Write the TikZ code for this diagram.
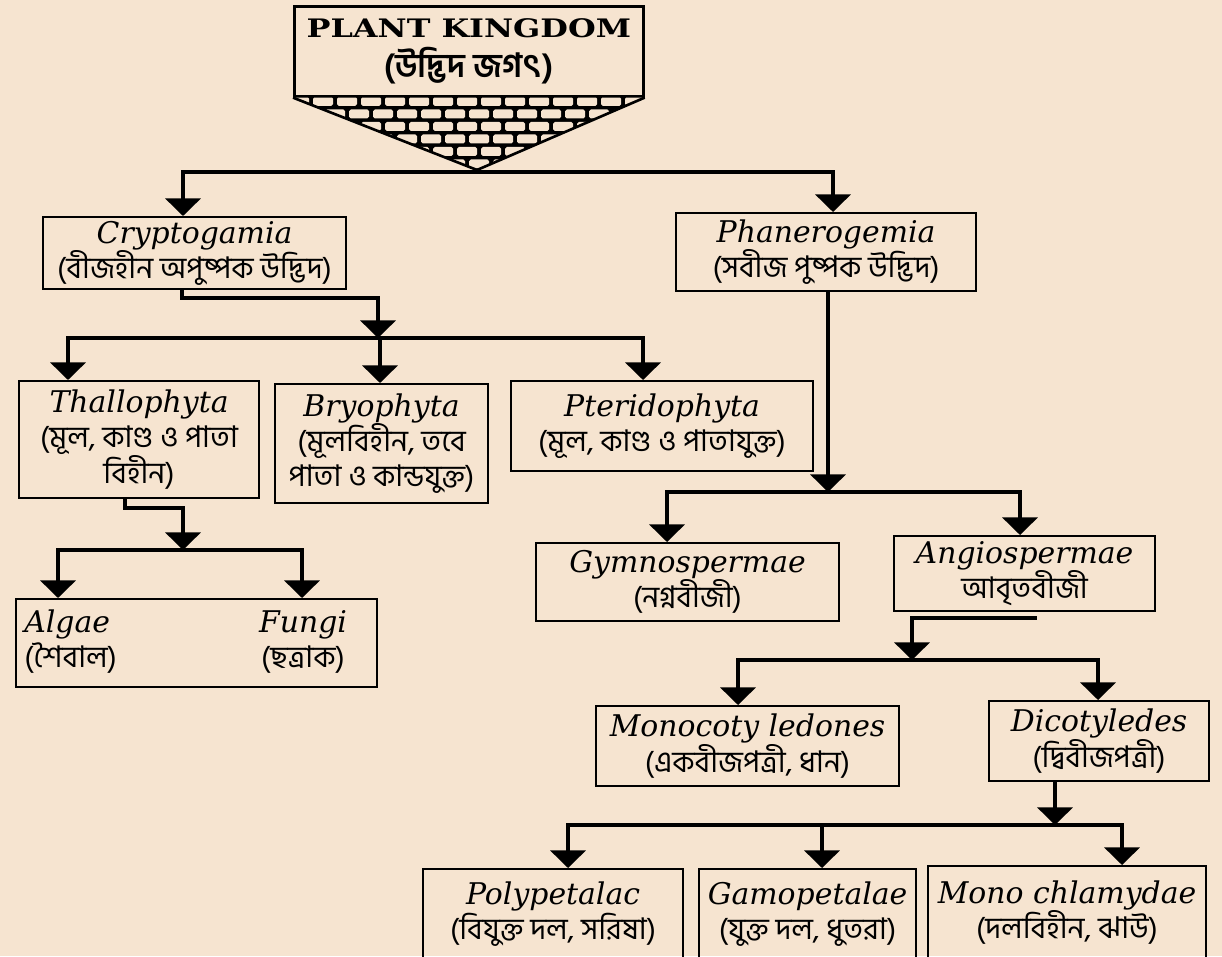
\documentclass[tikz,border=0pt]{standalone}
\usepackage{fontspec}
\usepackage{graphicx}
\usetikzlibrary{arrows.meta}
\setmainfont{DejaVu Serif}
\newfontfamily\bn[Script=Bengali]{Hind Siliguri}
\newfontfamily\latfont{DejaVu Serif}

\definecolor{paper}{RGB}{246,228,208}

\newcommand\unitpx{0.02cm}
\newcommand\lat[1]{{\latfont\itshape #1}}
\newcommand\plantbox[6]{
  \node[plantbox, minimum width=#4*\unitpx, minimum height=#5*\unitpx] (#1) at (#2,#3) {#6};
}
\newcommand\bricks{
  \foreach \r in {0,...,5}{
    \pgfmathsetmacro\rowy{97+12.5*\r}
    \pgfmathsetmacro\rowshift{mod(\r,2)*12}
    \foreach \c in {0,...,14}{
      \fill[paper, rounded corners=1pt] (289+\rowshift+24*\c, \rowy) rectangle ++(20,9);
    }
  }
}

\tikzset{
  plantbox/.style={draw, line width=1.2pt, anchor=north west, inner sep=0pt, align=center,
    font=\bn\fontsize{17}{20}\selectfont},
  plaintext/.style={inner sep=0pt, align=center, font=\bn\fontsize{17}{20}\selectfont},
  conn/.style={line width=1.8pt, line cap=rect},
  arr/.style={conn, -{Triangle[width=20pt,length=10pt]}},
}

\begin{document}
\begin{tikzpicture}[x=\unitpx, y=-\unitpx]
    \useasboundingbox (0,0) rectangle (1222,956);
    \clip (0,0) rectangle (1222,956);
    \fill[paper] (0,0) rectangle (1222,956);

    \node[draw, line width=1.5pt, anchor=north west, minimum width=349*\unitpx, minimum height=90*\unitpx,
      inner sep=0pt, align=center] (kingdom) at (293,5)
      {\scalebox{1.25}[1]{\bfseries\fontsize{14.5}{16}\selectfont PLANT KINGDOM}\\[4pt]{\bn\bfseries\fontsize{19}{20}\selectfont (উদ্ভিদ জগৎ)}};
    \coordinate (apex) at (477,170);
    \fill (kingdom.south west) -- (kingdom.south east) -- (apex) -- cycle;
    \begin{scope}
      \clip (kingdom.south west) -- (kingdom.south east) -- (apex) -- cycle;
      \bricks
    \end{scope}
    \draw[line width=1.5pt, line join=round] (kingdom.south west) -- (apex) -- (kingdom.south east);

    \plantbox{crypt}{42}{216}{303}{72}{\lat{Cryptogamia}\\(বীজহীন অপুষ্পক উদ্ভিদ)}
    \plantbox{phan}{675}{212}{300}{78}{\lat{Phanerogemia}\\(সবীজ পুষ্পক উদ্ভিদ)}
    \plantbox{thal}{18}{380}{240}{117}{\lat{Thallophyta}\\(মূল, কাণ্ড ও পাতা\\বিহীন)}
    \plantbox{bryo}{274}{383}{213}{119}{\lat{Bryophyta}\\(মূলবিহীন, তবে\\পাতা ও কান্ডযুক্ত)}
    \plantbox{pter}{510}{380}{302}{90}{\lat{Pteridophyta}\\(মূল, কাণ্ড ও পাতাযুক্ত)}
    \plantbox{algfun}{15}{598}{361}{88}{}
    \node[plaintext, anchor=west, align=left] (algae) at (24,642) {\lat{Algae}\\(শৈবাল)};
    \node[plaintext] (fungi) at (303,642) {\lat{Fungi}\\(ছত্রাক)};
    \plantbox{gymno}{535}{542}{303}{78}{\lat{Gymnospermae}\\(নগ্নবীজী)}
    \plantbox{angio}{893}{535}{261}{75}{\lat{Angiospermae}\\আবৃতবীজী}
    \plantbox{mono}{595}{705}{303}{80}{\lat{Monocoty ledones}\\(একবীজপত্রী, ধান)}
    \plantbox{dicot}{988}{700}{220}{80}{\lat{Dicotyledes}\\(দ্বিবীজপত্রী)}
    \plantbox{poly}{422}{868}{260}{90}{\lat{Polypetalac}\\(বিযুক্ত দল, সরিষা)}
    \plantbox{gamo}{698}{868}{217}{90}{\lat{Gamopetalae}\\(যুক্ত দল, ধুতরা)}
    \plantbox{monochl}{927}{865}{278}{93}{\lat{Mono chlamydae}\\(দলবিহীন, ঝাউ)}

    % first split
    \coordinate (topl) at (183,172);
    \coordinate (topr) at (833,172);
    \draw[conn] (topl) -- (topr);
    \draw[arr] (topl) -- (topl |- crypt.north);
    \draw[arr] (topr) -- (topr |- phan.north);

    \coordinate (cr1) at (182,298);
    \coordinate (cr2) at (378,298);
    \coordinate (midl) at (68,338);
    \coordinate (midc) at (380,338);
    \coordinate (midr) at (643,338);
    \draw[conn] (cr1 |- crypt.south) -- (cr1) -- (cr2);
    \draw[arr] (cr2) -- (cr2 |- midl);
    \draw[conn] (midl) -- (midr);
    \draw[arr] (midl) -- (midl |- thal.north);
    \draw[arr] (midc) -- (midc |- bryo.north);
    \draw[arr] (midr) -- (midr |- pter.north);

    \coordinate (th1) at (125,508);
    \coordinate (th2) at (183,508);
    \coordinate (lowl) at (58,550);
    \coordinate (lowr) at (302,550);
    \draw[conn] (th1 |- thal.south) -- (th1) -- (th2);
    \draw[arr] (th2) -- (th2 |- lowl);
    \draw[conn] (lowl) -- (lowr);
    \draw[arr] (lowl) -- (lowl |- algfun.north);
    \draw[arr] (lowr) -- (lowr |- algfun.north);

    \coordinate (ph1) at (828,492);
    \coordinate (gyl) at (667,492);
    \coordinate (gyr) at (1020,492);
    \draw[arr] (ph1 |- phan.south) -- (ph1);
    \draw[conn] (gyl) -- (gyr);
    \draw[arr] (gyl) -- (gyl |- gymno.north);
    \draw[arr] (gyr) -- (gyr |- angio.north);

    \coordinate (an0) at (1035,618);
    \coordinate (an1) at (912,618);
    \coordinate (mol) at (738,660);
    \coordinate (mor) at (1098,660);
    \draw[conn] (an0) -- (an1);
    \draw[arr] (an1) -- (an1 |- mol);
    \draw[conn] (mol) -- (mor);
    \draw[arr] (mol) -- (mol |- mono.north);
    \draw[arr] (mor) -- (mor |- dicot.north);

    \coordinate (di1) at (1055,825);
    \coordinate (pol) at (568,825);
    \coordinate (pom) at (822,825);
    \coordinate (por) at (1122,825);
    \draw[arr] (di1 |- dicot.south) -- (di1);
    \draw[conn] (pol) -- (por);
    \draw[arr] (pol) -- (pol |- poly.north);
    \draw[arr] (pom) -- (pom |- gamo.north);
    \draw[arr] (por) -- (por |- monochl.north);
\end{tikzpicture}
\end{document}
